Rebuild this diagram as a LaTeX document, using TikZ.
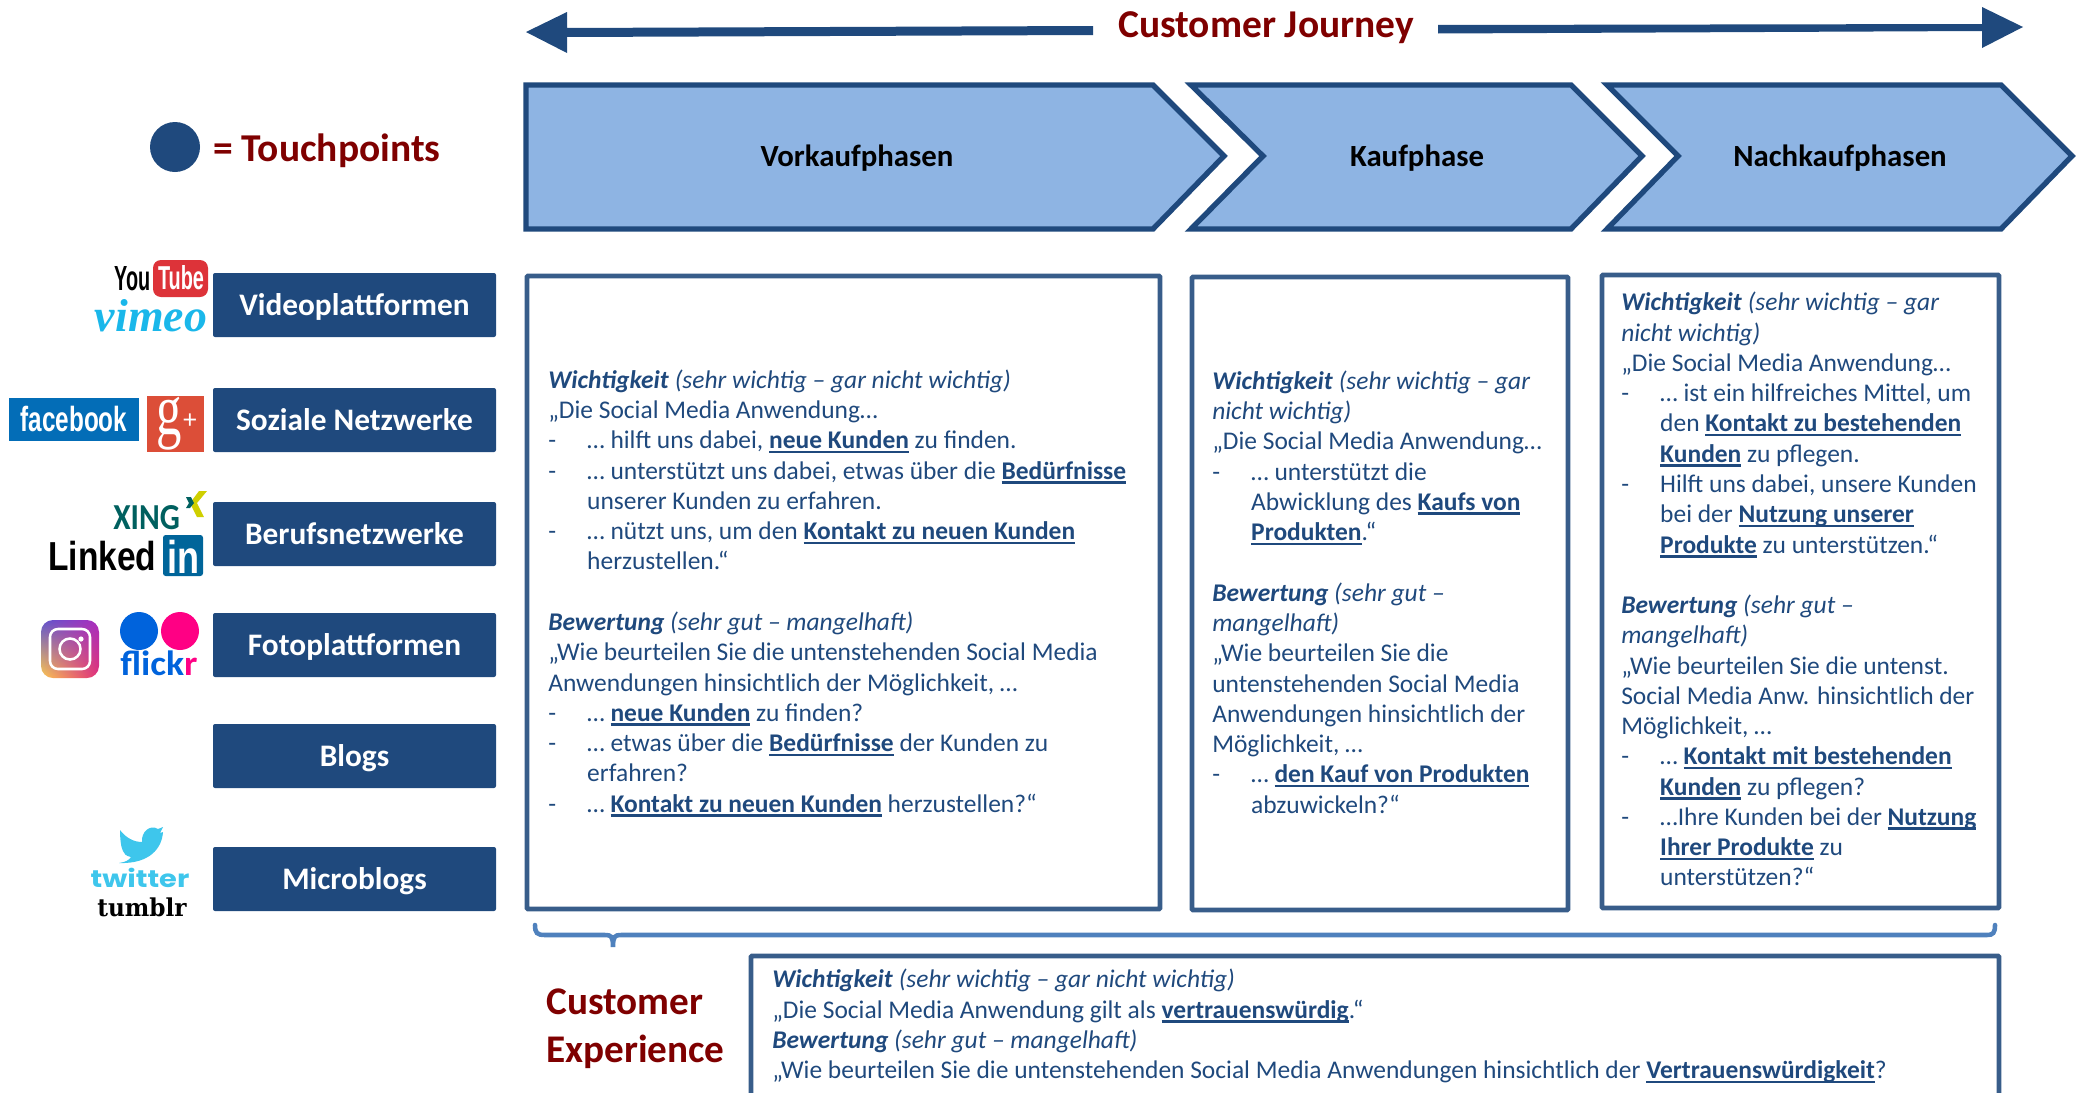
\documentclass[tikz,border=0pt]{standalone}
\usepackage{fontspec}
\usepackage{graphicx}
\usetikzlibrary{shadings}
\setmainfont{Carlito}
\newfontfamily\serifl{Liberation Serif}
\newfontfamily\dvserif{DejaVu Serif}
\newfontfamily\libsans{Liberation Sans}
\newfontfamily\poppins{Poppins}
\definecolor{navy}{HTML}{1F497D}
\definecolor{framec}{HTML}{385D8A}
\definecolor{chevfill}{HTML}{8EB4E3}
\definecolor{bracec}{HTML}{4F81BD}
\definecolor{darkred}{HTML}{7F0000}
\definecolor{ytred}{RGB}{221,51,57}
\definecolor{vimeoc}{RGB}{26,183,234}
\definecolor{fbblue}{RGB}{3,109,183}
\definecolor{gpred}{RGB}{220,78,56}
\definecolor{xingteal}{RGB}{0,96,95}
\definecolor{xingyel}{RGB}{207,207,0}
\definecolor{liblue}{RGB}{0,101,154}
\definecolor{flblue}{RGB}{0,99,220}
\definecolor{flpink}{RGB}{255,0,132}
\definecolor{twblue}{RGB}{62,198,236}
\definecolor{igll}{RGB}{253,200,80}
\definecolor{iglr}{RGB}{225,45,120}
\definecolor{igul}{RGB}{95,85,205}
\definecolor{igur}{RGB}{170,45,190}
\newlength\ulw
\newsavebox\ulbox
\newcommand{\ub}[1]{\sbox\ulbox{\bfseries #1}\ulw=\wd\ulbox\rlap{\rule[-3.4pt]{\ulw}{1.9pt}}\usebox\ulbox}
\newcommand{\wi}{\textbf{\textit{Wichtigkeit}}}
\newcommand{\be}{\textbf{\textit{Bewertung}}}
\newcommand{\bul}{\makebox[29.2pt][l]{-}}
\newcommand{\ind}{\hspace*{29.2pt}}
\newcommand{\bodysize}{\fontsize{19.1pt}{22.7pt}\selectfont}
\newcommand{\fit}[3]{\resizebox{#1pt}{#2pt}{#3}}
\tikzset{
 x=0.75pt,y=-0.75pt,
 sidebox/.style={fill=navy,rounded corners=1.5pt,minimum width=212.25pt,minimum height=48pt,inner sep=0,text=white,text height=18pt,text depth=2pt,font=\fontsize{23.5pt}{26pt}\selectfont\bfseries},
 chev/.style={draw=navy,fill=chevfill,line width=4pt,line join=miter},
 frame/.style={draw=framec,line width=3.6pt,rounded corners=0.8pt},
 phase/.style={inner sep=0,text=black,text height=16pt,text depth=0pt,font=\fontsize{23.1pt}{26pt}\selectfont\bfseries},
 title/.style={inner sep=0,text=darkred,font=\fontsize{29.6pt}{32pt}\selectfont\bfseries},
 body/.style={inner sep=0,anchor=north west,align=left,text=navy,font=\bodysize},
 logo/.style={inner sep=0},
}
\begin{document}
\begin{tikzpicture}
\useasboundingbox (0,0) rectangle (2087,1092);
% top arrows
\fill[navy] (526,32) -- (567,12) -- (567,28) -- (1093,26) -- (1093,35) -- (567,37) -- (567,53) -- cycle;
\fill[navy] (2023,27) -- (1982,7) -- (1982,24) -- (1438,25) -- (1438,33.5) -- (1982,31) -- (1982,48) -- cycle;
\node[title] (cj) at (1266,28) {Customer Journey};
% touchpoints
\fill[navy] (175,147) circle[radius=25];
\node[title,anchor=west] (tp) at (213,151) {= Touchpoints};
% chevrons
\draw[chev] (526,85) -- (1153,85) -- (1224,156) -- (1153,229) -- (526,229) -- cycle;
\draw[chev] (1191,85) -- (1571,85) -- (1642,156) -- (1571,229) -- (1191,229) -- (1263,156) -- cycle;
\draw[chev] (1607,85) -- (2001,85) -- (2072,156) -- (2001,229) -- (1607,229) -- (1678,156) -- cycle;
\node[phase] (vk) at (857,156) {Vorkaufphasen};
\node[phase] (kp) at (1417,156) {Kaufphase};
\node[phase] (nk) at (1840,156) {Nachkaufphasen};
% side boxes
\node[sidebox] (s1) at (354.5,305) {Videoplattformen};
\node[sidebox] (s2) at (354.5,420) {Soziale Netzwerke};
\node[sidebox] (s3) at (354.5,534) {Berufsnetzwerke};
\node[sidebox] (s4) at (354.5,645) {Fotoplattformen};
\node[sidebox] (s5) at (354.5,756) {Blogs};
\node[sidebox] (s6) at (354.5,879) {Microblogs};
% frames
\draw[frame] (527,276) rectangle (1160,909);
\draw[frame] (1192,277) rectangle (1568,910);
\draw[frame] (1602,275) rectangle (1999,908);
\draw[frame] (751,956) rectangle (1999,1110);
% brace
\draw[draw=bracec,line width=3.4pt,line cap=round] (535,925) .. controls (535,933) and (537,935) .. (545,935) -- (605,935) .. controls (611,935) and (613,936) .. (613,947) .. controls (613,936) and (615,935) .. (621,935) -- (1987,935) .. controls (1993,935) and (1995,933) .. (1995,925);
% body text
\node[body] (t1) at (548,369.5) {\wi\ \textit{(sehr wichtig – gar nicht wichtig)}\\
„Die Social Media Anwendung…\\
\bul … hilft uns dabei, \ub{neue Kunden} zu finden.\\
\bul … unterstützt uns dabei, etwas über die \ub{Bedürfnisse}\\
\ind unserer Kunden zu erfahren.\\
\bul … nützt uns, um den \ub{Kontakt zu neuen Kunden}\\
\ind herzustellen.“\\
\mbox{}\\
\be\ \textit{(sehr gut – mangelhaft)}\\
„Wie beurteilen Sie die untenstehenden Social Media\\
Anwendungen hinsichtlich der Möglichkeit, …\\
\bul … \ub{neue Kunden} zu finden?\\
\bul … etwas über die \ub{Bedürfnisse} der Kunden zu\\
\ind erfahren?\\
\bul … \ub{Kontakt zu neuen Kunden} herzustellen?“};
\node[body] (t2) at (1212,370.5) {\wi\ \textit{(sehr wichtig – gar}\\
\textit{nicht wichtig)}\\
„Die Social Media Anwendung…\\
\bul … unterstützt die\\
\ind Abwicklung des \ub{Kaufs von}\\
\ind \ub{Produkten}.“\\
\mbox{}\\
\be\ \textit{(sehr gut –}\\
\textit{mangelhaft)}\\
„Wie beurteilen Sie die\\
untenstehenden Social Media\\
Anwendungen hinsichtlich der\\
Möglichkeit, …\\
\bul … \ub{den Kauf von Produkten}\\
\ind abzuwickeln?“};
\node[body] (t3) at (1621,292) {\wi\ \textit{(sehr wichtig – gar}\\
\textit{nicht wichtig)}\\
„Die Social Media Anwendung…\\
\bul … ist ein hilfreiches Mittel, um\\
\ind den \ub{Kontakt zu bestehenden}\\
\ind \ub{Kunden} zu pflegen.\\
\bul Hilft uns dabei, unsere Kunden\\
\ind bei der \ub{Nutzung unserer}\\
\ind \ub{Produkte} zu unterstützen.“\\
\mbox{}\\
\be\ \textit{(sehr gut –}\\
\textit{mangelhaft)}\\
„Wie beurteilen Sie die untenst.\\
Social Media Anw. hinsichtlich der\\
Möglichkeit, …\\
\bul … \ub{Kontakt mit bestehenden}\\
\ind \ub{Kunden} zu pflegen?\\
\bul …Ihre Kunden bei der \ub{Nutzung}\\
\ind \ub{Ihrer Produkte} zu\\
\ind unterstützen?“};
\node[body] (t4) at (772,969) {\wi\ \textit{(sehr wichtig – gar nicht wichtig)}\\
„Die Social Media Anwendung gilt als \ub{vertrauenswürdig}.“\\
\be\ \textit{(sehr gut – mangelhaft)}\\
„Wie beurteilen Sie die untenstehenden Social Media Anwendungen hinsichtlich der \ub{Vertrauenswürdigkeit}?};
\node[title,anchor=north west,align=left,font=\fontsize{29.4pt}{36pt}\selectfont\bfseries] (ce) at (546,989) {Customer\\Experience};
% youtube
\node[logo,anchor=north west] (yt1) at (114,266) {\fit{27}{18}{\libsans\bfseries You}};
\fill[rounded corners=6pt,ytred] (153,260) rectangle (208,297);
\node[logo,text=white] (yt2) at (181,278) {\fit{34.5}{18}{\libsans\bfseries Tube}};
% vimeo
\node[logo,text=vimeoc] (vm) at (151,316) {\fit{84}{24}{\serifl\bfseries\itshape vimeo}};
% facebook
\fill[fbblue] (9,398) rectangle (139,441);
\node[logo,text=white] (fb) at (74,419) {\fit{80}{19}{\libsans\bfseries facebook}};
\fill[gpred] (147,396) rectangle (204,452);
\node[logo,text=white] (gp) at (169.5,424) {\fit{19}{28}{\serifl g}};
\node[logo,text=white] (gq) at (190,421) {\fit{11}{11}{\libsans +}};
% xing
\node[logo,text=xingteal,anchor=north west] (xi) at (113,505) {\fit{50}{18}{\bfseries XING}};
\fill[xingyel] (207,491) -- (199,491) -- (190,503) -- (197,517) -- (204,517) -- (197,503) -- cycle;
\fill[xingteal] (186,497) -- (191,497) -- (194,503) -- (190,508) -- (186,508) -- (189,503) -- cycle;
% linkedin
\node[logo,anchor=north west] (li) at (48,541) {\fit{81}{22}{\libsans\bfseries Linked}};
\fill[rounded corners=2pt,liblue] (163,535) rectangle (203,576);
\node[logo,text=white] (in) at (183,557) {\fit{24}{25}{\libsans\bfseries in}};
% instagram
\shade[shading=bilinear interpolation,rounded corners=9pt,lower left=igll,lower right=iglr,upper left=igul,upper right=igur] (41,620) rectangle (99,678);
\draw[white,line width=1.9pt,rounded corners=6pt] (50,629) rectangle (90,669);
\draw[white,line width=1.9pt] (70,649) circle[radius=10.5];
\fill[white] (81,639) circle[radius=2.6];
% flickr
\fill[flblue] (139,631) circle[radius=19];
\fill[flpink] (180,631) circle[radius=19];
\node[logo,anchor=north west] (fl) at (120,651) {\fit{58}{18.5}{\bfseries\textcolor{flblue}{flick}\textcolor{flpink}{r}}};
% twitter
\fill[twblue] (120,830) .. controls (126,838) and (134,842) .. (142,842) .. controls (141,832) and (150,824) .. (158,829) -- (163,827) -- (160,833) -- (163,832) .. controls (162,848) and (150,864) .. (119,863) .. controls (126,862) and (129,860) .. (131,857) .. controls (126,856) and (124,854) .. (123,851) .. controls (121,848) and (120,838) .. (120,830) -- cycle;
\node[logo,text=twblue] (tw) at (140,878) {\fit{74}{14.5}{\poppins\bfseries twitter}};
\node[logo,text=black] (tu) at (142,907) {\fit{67}{14}{\dvserif\bfseries tumblr}};
\end{tikzpicture}
\end{document}
